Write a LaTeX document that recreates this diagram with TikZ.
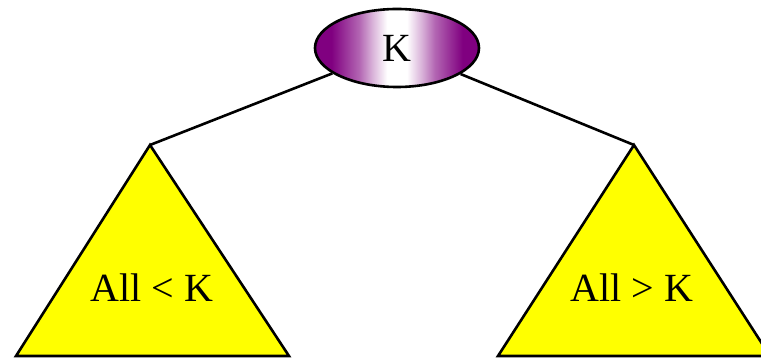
\documentclass[tikz,border=0pt]{standalone}
\usepackage{fontspec}
\setmainfont{Liberation Serif}
\usetikzlibrary{shapes.geometric}
\definecolor{kpurple}{RGB}{128,0,128}
\definecolor{tyellow}{RGB}{255,255,0}
\pgfdeclarehorizontalshading{keyshade}{100bp}{color(0bp)=(kpurple); color(30bp)=(kpurple); color(38.5bp)=(kpurple!60!white); color(42.5bp)=(kpurple!30!white); color(47bp)=(white); color(53bp)=(white); color(57.5bp)=(kpurple!30!white); color(61.5bp)=(kpurple!60!white); color(70bp)=(kpurple); color(100bp)=(kpurple)}
\begin{document}
\begin{tikzpicture}[x=1pt,y=-1pt,
  keynode/.style={ellipse,draw=black,line width=2.6pt,minimum width=164pt,minimum height=78pt,
    shading=keyshade,font=\fontsize{40}{44}\selectfont,inner sep=0pt},
  subtree/.style={draw=black,line width=2.6pt,fill=tyellow,line join=miter},
  edge/.style={draw=black,line width=2.6pt},
  lbl/.style={font=\fontsize{40}{44}\selectfont,inner sep=0pt}]
\useasboundingbox (0,0) rectangle (761,358);
\coordinate (la) at (150,145);
\coordinate (lb) at (16,356);
\coordinate (lc) at (289,356);
\coordinate (ra) at (634,145);
\coordinate (rb) at (498,356);
\coordinate (rc) at (770,356);
\path[subtree] (la) -- (lb) -- (lc) -- cycle;
\path[subtree] (ra) -- (rb) -- (rc) -- cycle;
\node[keynode] (K) at (397,48) {K};
\draw[edge] (K) -- (la);
\draw[edge] (K) -- (ra);
\node[lbl] (L) at (152,288) {All < K};
\node[lbl] (R) at (632,288) {All > K};
\end{tikzpicture}
\end{document}
